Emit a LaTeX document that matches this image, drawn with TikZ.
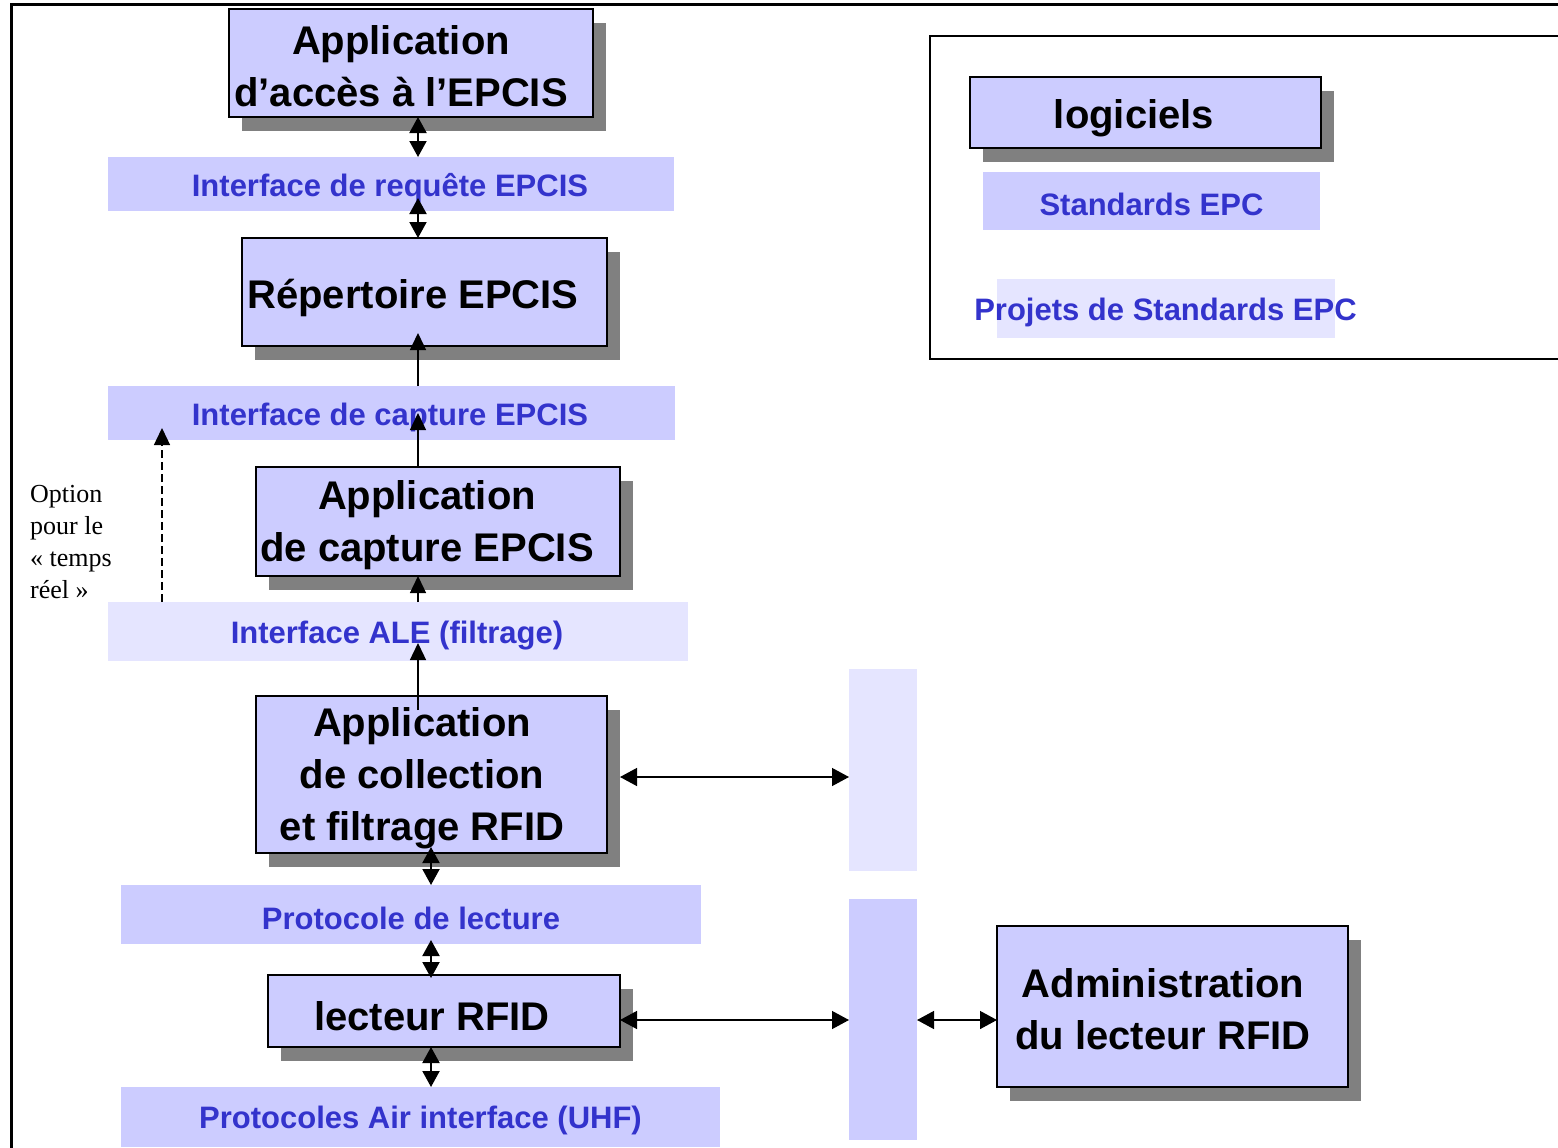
\documentclass[tikz,border=0pt]{standalone}
\usepackage{fontspec}
\setmainfont{Liberation Sans}
\newfontfamily\notefont{Liberation Serif}
\usetikzlibrary{arrows.meta,shadows}
\definecolor{boxfill}{HTML}{CCCCFF}
\definecolor{palefill}{HTML}{E5E5FF}
\definecolor{shadowgray}{HTML}{808080}
\definecolor{labelblue}{HTML}{3333CC}
\begin{document}
\begin{tikzpicture}[x=1pt,y=-1pt,
  softbox/.style={draw=black, line width=1.6pt, fill=boxfill, inner sep=0pt, outer sep=0pt,
    drop shadow={shadow xshift=13pt, shadow yshift=-14pt, fill=shadowgray, opacity=1}},
  boxtext/.style={font=\fontsize{40}{52}\selectfont\bfseries, align=center, inner sep=0pt},
  strip/.style={fill=boxfill, inner sep=0pt, outer sep=0pt},
  palestrip/.style={fill=palefill, inner sep=0pt, outer sep=0pt},
  striptext/.style={font=\fontsize{31}{37}\selectfont\bfseries, text=labelblue, inner sep=0pt},
  dbl/.style={{Triangle[length=16pt,width=17pt]}-{Triangle[length=16pt,width=17pt]}, line width=2pt},
  single/.style={-{Triangle[length=17pt,width=16pt]}, line width=1.4pt},
  hdbl/.style={{Triangle[length=17pt,width=18pt]}-{Triangle[length=17pt,width=18pt]}, line width=1.4pt}
]
\useasboundingbox (0,0) rectangle (1558,1148);
\fill[white] (0,0) rectangle (1558,1148);

% outer frame
\draw[line width=3pt] (1565,5) -- (11,5) -- (11,1155);

% legend
\draw[line width=1.5pt] (1565,36) -- (930,36) -- (930,359) -- (1565,359);
\node[softbox, minimum width=351pt, minimum height=71pt] (log) at (1145.5,112.5) {};
\node[boxtext] (logt) at (1134,118) {logiciels};
\node[strip, minimum width=337pt, minimum height=58pt] (std) at (1151.5,201) {};
\node[striptext] (stdt) at (1151.5,204) {Standards EPC};
\node[palestrip, minimum width=338pt, minimum height=59pt] (proj) at (1166,308.5) {};
\node[striptext] (projt) at (1165.5,312) {Projets de Standards EPC};

% main stack
\node[softbox, minimum width=364pt, minimum height=108pt] (a1) at (411,63) {};
\node[boxtext] (a1t) at (401,66) {Application\\d’accès à l’EPCIS};

\node[strip, minimum width=566pt, minimum height=54pt] (req) at (391,184) {};
\node[striptext] (reqt) at (390,188) {Interface de requête EPCIS};

\node[softbox, minimum width=365pt, minimum height=108pt] (rep) at (424.5,292) {};
\node[boxtext] (rept) at (413,298) {Répertoire EPCIS};

\node[strip, minimum width=567pt, minimum height=54pt] (cap) at (391.5,413) {};
\node[striptext] (capt) at (390,417) {Interface de capture EPCIS};

\node[softbox, minimum width=364pt, minimum height=109pt] (acap) at (438,521.5) {};
\node[boxtext] (acapt) at (427,525) {Application\\de capture EPCIS};

\node[palestrip, minimum width=580pt, minimum height=59pt] (ale) at (398,631.5) {};
\node[striptext] (alet) at (397,636) {Interface ALE (filtrage)};

\node[softbox, minimum width=351pt, minimum height=157pt] (acol) at (431.5,774.5) {};
\node[boxtext] (acolt) at (422,778) {Application\\de collection\\et filtrage RFID};

\node[strip, minimum width=580pt, minimum height=59pt] (prot) at (411,914.5) {};
\node[striptext] (prott) at (411,918) {Protocole de lecture};

\node[softbox, minimum width=352pt, minimum height=72pt] (lect) at (444,1011) {};
\node[boxtext] (lectt) at (432,1016) {lecteur RFID};

\node[strip, minimum width=599pt, minimum height=60pt] (air) at (420.5,1117) {};
\node[striptext] (airt) at (420.5,1120) {Protocoles Air interface (UHF)};

% side bars and reader administration
\node[palestrip, minimum width=68pt, minimum height=202pt] (vs1) at (883,770) {};
\node[strip, minimum width=68pt, minimum height=241pt] (vs2) at (883,1019.5) {};
\node[softbox, minimum width=351pt, minimum height=161pt] (adm) at (1172.5,1006.5) {};
\node[boxtext] (admt) at (1163,1009) {Administration\\du lecteur RFID};

% note
\node[font=\notefont\fontsize{26}{32}\selectfont, align=left, anchor=north west, inner sep=0pt]
  (opt) at (30,485) {Option\\pour le\\«~temps\\réel~»};

% connectors
\coordinate (colA) at (418,0);
\coordinate (colB) at (431,0);
\coordinate (colD) at (162,0);
\draw[dbl] (a1.south -| colA) -- (req.north -| colA);
\draw[dbl, shorten <=-13pt] (req.south -| colA) -- (rep.north -| colA);
\draw[single, shorten >=-13pt] (cap.north -| colA) -- (rep.south -| colA);
\draw[single, shorten >=-27pt] (acap.north -| colA) -- (cap.south -| colA);
\draw[single] (ale.north -| colA) -- (acap.south -| colA);
\draw[single, shorten <=-14pt, shorten >=-18pt] (acol.north -| colA) -- (ale.south -| colA);
\draw[single, dash pattern=on 8pt off 4pt, shorten >=-12pt] (ale.north -| colD) -- (cap.south -| colD);
\draw[dbl, shorten <=-6pt] (acol.south -| colB) -- (prot.north -| colB);
\draw[dbl, shorten <=-4pt, shorten >=-3pt] (prot.south -| colB) -- (lect.north -| colB);
\draw[dbl] (lect.south -| colB) -- (air.north -| colB);
\coordinate (hA) at ([xshift=13pt,yshift=-2.5pt]acol.east);
\coordinate (hB) at ([yshift=-9pt]lect.east);
\draw[hdbl] (hA) -- (hA -| vs1.west);
\draw[hdbl] (hB) -- (hB -| vs2.west);
\draw[hdbl] (hB -| vs2.east) -- (hB -| adm.west);
\end{tikzpicture}
\end{document}
